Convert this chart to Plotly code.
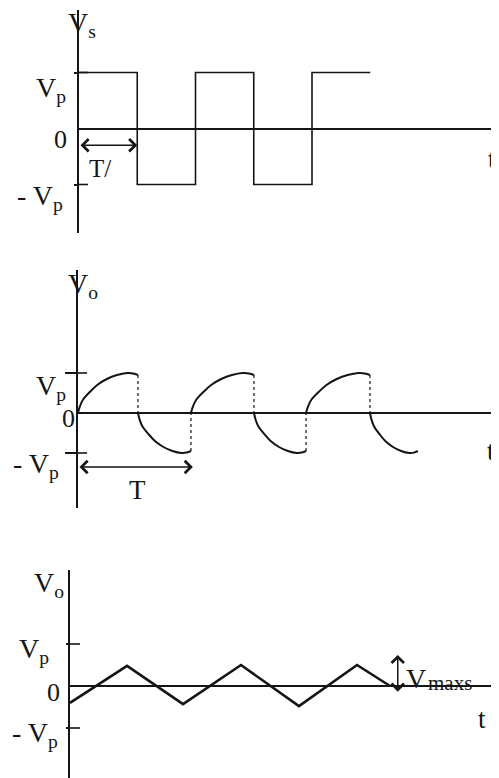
import plotly.graph_objects as go

# the page puts the plot 8px in from the top-left corner, so work in page pixels
OFF = 8
W, H = 499 - OFF, 778 - OFF
INK = "#151515"
FONT = "Liberation Serif"

# --- data (time in units of the period T, voltage in units of Vp) ---
# square wave input Vs
sq_t = [0, 0.5, 1.0, 1.5, 2.0, 2.5]
sq_v = [1, -1, 1, -1, 1, 1]

# one charging arc of Vo (fraction of half cycle, fraction of Vp)
arc_u = [0, 0.03, 0.083, 0.2, 0.32, 0.48, 0.65, 0.82, 0.92, 1.0]
arc_v = [0, 0.16, 0.33, 0.53, 0.70, 0.85, 0.95, 1.0, 0.99, 0.95]
vo_switch = [0, 0.517, 0.974, 1.517, 1.966, 2.517, 2.93]
vo_sign = [1, -1, 1, -1, 1, -1]

# triangular ripple output
tri_t = [0, 0.496, 0.983, 1.487, 1.991, 2.496, 2.783]
tri_v = [-0.40, 0.48, -0.43, 0.50, -0.48, 0.50, 0]


def xdom(px0):
    return [(px0 - OFF) / W, 1]


def ydom(top, bot):
    return [max(0, 1 - (bot - OFF) / H), 1 - (top - OFF) / H]


def xrng(px0, unit):
    return [0, (499 - px0) / unit]


def yrng(top, bot, zero, unit):
    return [(zero - min(bot, 778)) / unit, (zero - top) / unit]


def px(x):
    return (x - OFF) / W


def py(y):
    return 1 - (y - OFF) / H


fig = go.Figure()

# panel 1: square wave
fig.add_trace(go.Scatter(x=sq_t, y=sq_v, mode="lines", line_shape="hv",
                         line=dict(color=INK, width=1.6), xaxis="x", yaxis="y"))

# panel 2: charging arcs plus dotted switching lines
dot_x, dot_y = [], []
for i, s in enumerate(vo_sign):
    a, b = vo_switch[i], vo_switch[i + 1]
    xs = [a + u * (b - a) for u in arc_u]
    ys = [s * v for v in arc_v]
    fig.add_trace(go.Scatter(x=xs, y=ys, mode="lines", line_shape="spline",
                             line=dict(color=INK, width=2), xaxis="x2", yaxis="y2"))
    if i < len(vo_sign) - 1:
        dot_x += [b, b, None]
        dot_y += [ys[-1], 0, None]
fig.add_trace(go.Scatter(x=dot_x, y=dot_y, mode="lines",
                         line=dict(color=INK, width=1.2, dash="dot"), xaxis="x2", yaxis="y2"))

# panel 3: triangle ripple
fig.add_trace(go.Scatter(x=tri_t, y=tri_v, mode="lines",
                         line=dict(color=INK, width=2.6), xaxis="x3", yaxis="y3"))

hidden_x = dict(showline=False, showgrid=False, zeroline=False, showticklabels=False, ticks="")


def yax(dom, rng, anchor, ticklen):
    return dict(domain=dom, range=rng, anchor=anchor, showline=True, linecolor=INK, linewidth=1.8,
                zeroline=True, zerolinecolor=INK, zerolinewidth=1.6, showgrid=False,
                showticklabels=False, tickvals=[-1, 1], ticks="outside", ticklen=ticklen,
                tickwidth=1.6, tickcolor=INK)


fig.update_layout(
    width=W, height=H, margin=dict(l=0, r=0, t=0, b=0),
    paper_bgcolor="white", plot_bgcolor="rgba(0,0,0,0)", showlegend=False,
    xaxis=dict(domain=xdom(79), range=xrng(79, 116.5), anchor="y", **hidden_x),
    yaxis=yax(ydom(10, 233), yrng(10, 233, 128.5, 56), "x", 3),
    xaxis2=dict(domain=xdom(78), range=xrng(78, 116), anchor="y2", **hidden_x),
    yaxis2=yax(ydom(270, 508), yrng(270, 508, 413, 40), "x2", 11),
    xaxis3=dict(domain=xdom(70), range=xrng(70, 115), anchor="y3", **hidden_x),
    yaxis3=yax(ydom(570, 778), yrng(570, 778, 686, 42), "x3", 2),
)

# inner halves of the +/-Vp ticks
for xa, ya, length in [("x", "y", 9 / 116.5), ("x2", "y2", 9 / 116), ("x3", "y3", 10 / 115)]:
    for lvl in [-1, 1]:
        fig.add_shape(type="line", xref=xa, yref=ya, x0=0, x1=length, y0=lvl, y1=lvl,
                      line=dict(color=INK, width=1.6))

# labels (page pixels of each label's top-left corner)
labels = [
    ("V<sub>s</sub>", 66, 5, 28), ("V<sub>p</sub>", 34, 70, 28), ("0", 52, 123, 26),
    ("- V<sub>p</sub>", 15, 178, 28), ("T/", 87, 153, 25), ("t", 486, 142, 27),
    ("V<sub>o</sub>", 66, 266, 28), ("V<sub>p</sub>", 34, 368, 28), ("0", 60, 402, 26),
    ("- V<sub>p</sub>", 11, 446, 28), ("T", 127, 473, 27), ("t", 485, 434, 27),
    ("V<sub>o</sub>", 32, 565, 28), ("V<sub>p</sub>", 17, 631, 28), ("0", 45, 676, 26),
    ("- V<sub>p</sub>", 10, 715, 28), ("t", 476, 702, 27), ("V", 404, 661, 28),
]
for text, x, y, size in labels:
    fig.add_annotation(text=text, x=px(x), y=py(y), xref="paper", yref="paper",
                       xanchor="left", yanchor="top", showarrow=False,
                       font=dict(family=FONT, size=size, color=INK))

# subscript of V_maxs sits on the zero line
fig.add_annotation(text="maxs", x=px(426), y=py(683), xref="paper", yref="paper",
                   xanchor="left", yanchor="middle", showarrow=False,
                   font=dict(family=FONT, size=21, color=INK))

# double-headed arrows
arrows = [
    ("x", "y", 0, -0.3, 0.5, -0.3),
    ("x2", "y2", 0, -1.35, 0.99, -1.35),
    ("x3", "y3", 2.85, -0.17, 2.85, 0.74),
]
for xa, ya, x0, y0, x1, y1 in arrows:
    fig.add_annotation(text="", x=x1, y=y1, ax=x0, ay=y0, xref=xa, yref=ya, axref=xa, ayref=ya,
                       showarrow=True, arrowside="end+start", arrowhead=4, startarrowhead=4,
                       arrowsize=1.6, startarrowsize=1.6, arrowwidth=1.5, arrowcolor=INK,
                       standoff=0, startstandoff=0)

fig.write_html("out.html", config={"displayModeBar": False})
